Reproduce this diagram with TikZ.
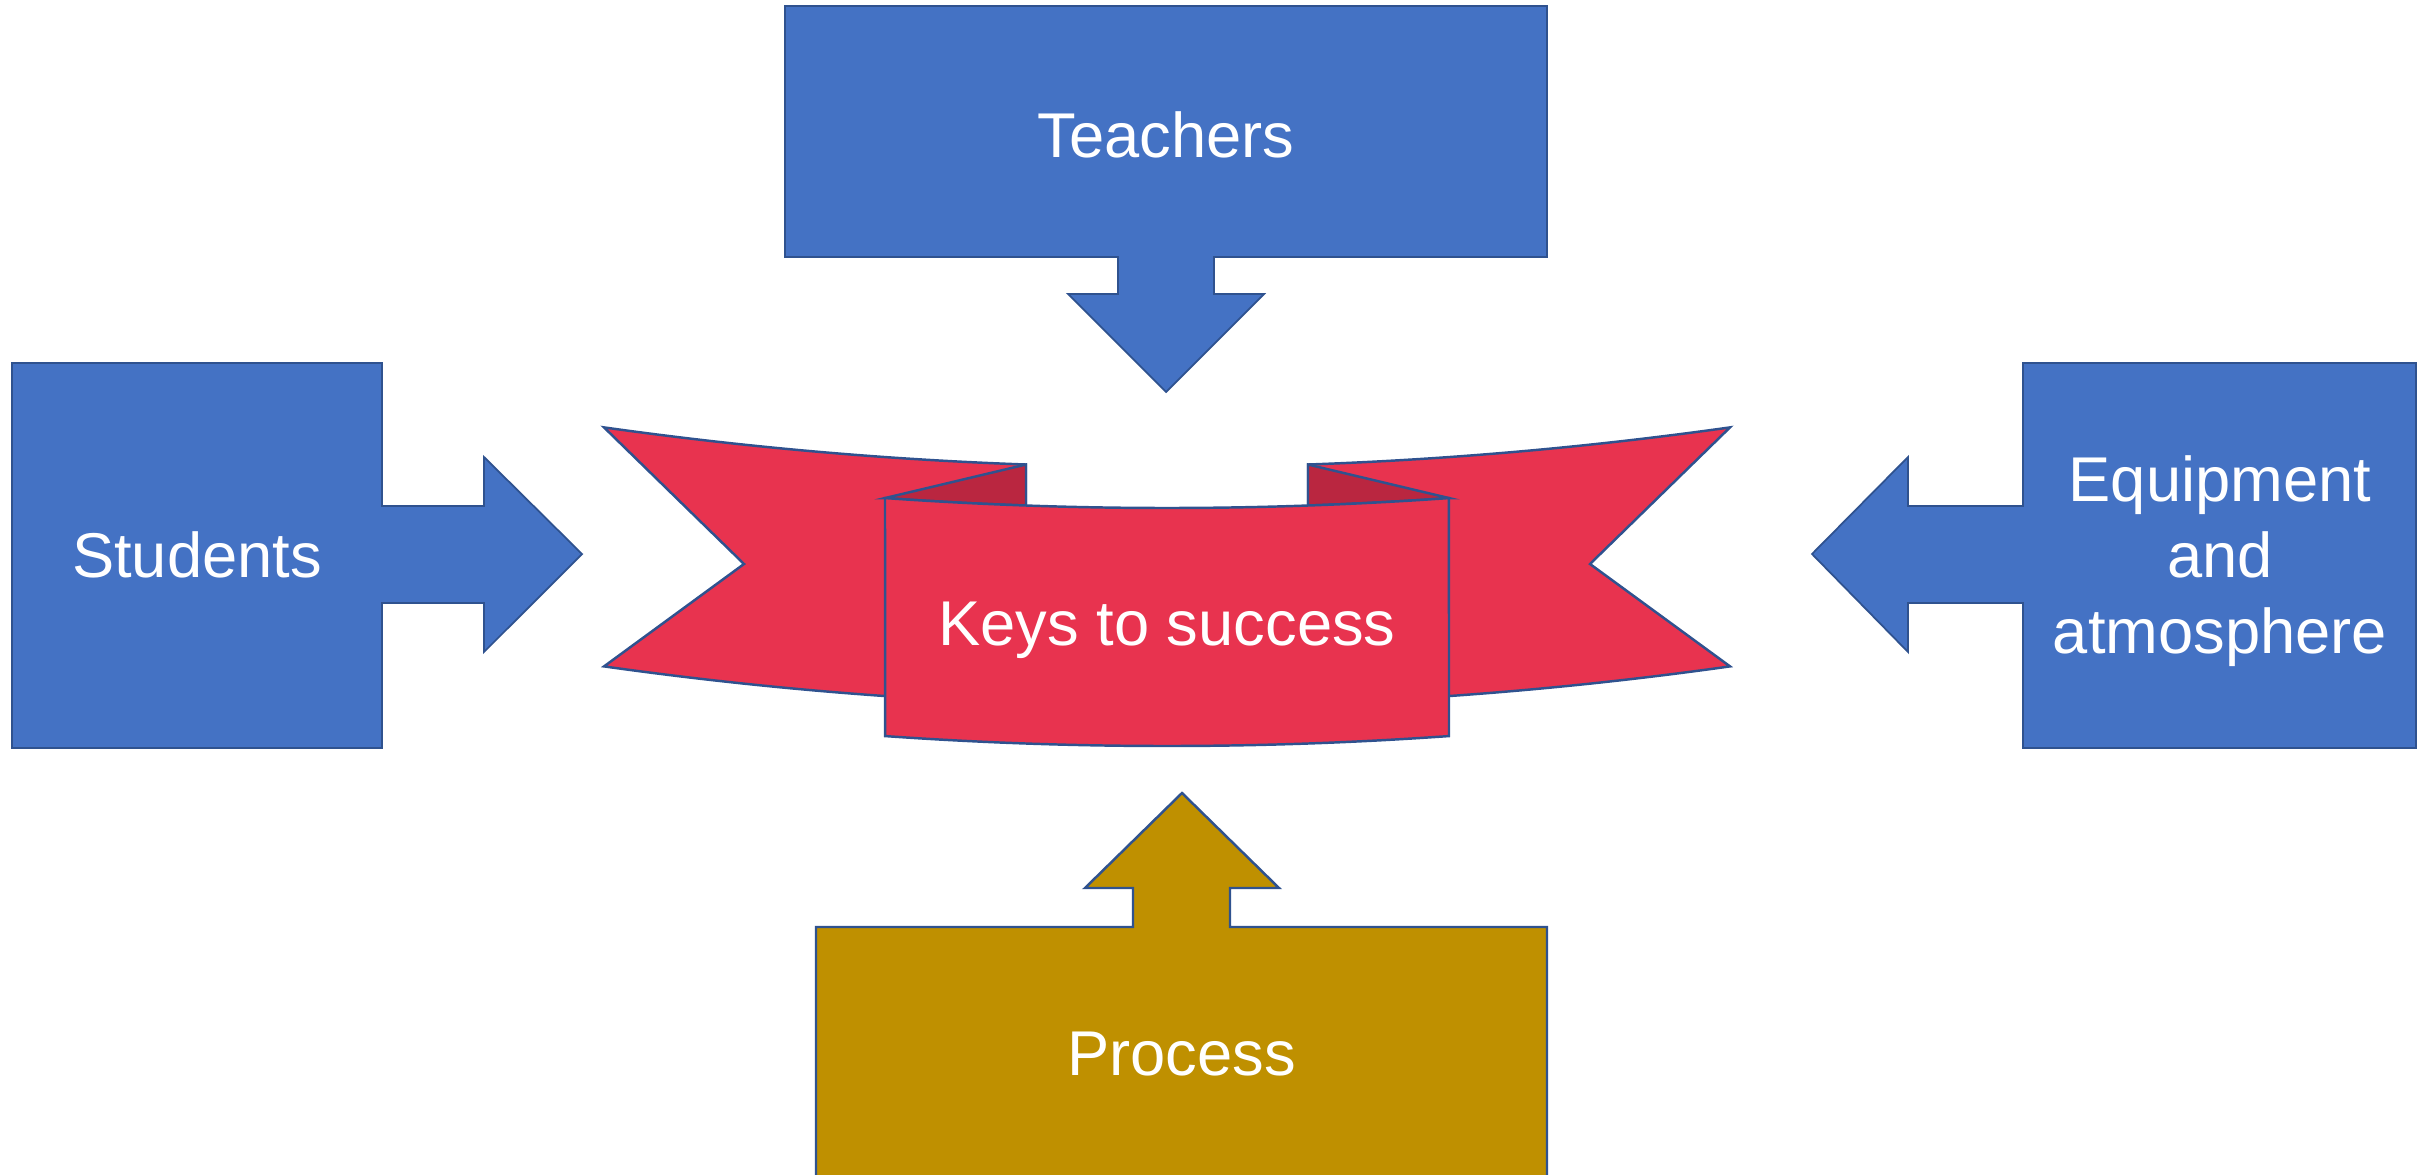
\documentclass[tikz,border=0pt]{standalone}
\usepackage{fontspec}
\setmainfont{Liberation Sans}
\usepackage{tikz}
\usepackage{xcolor}

\definecolor{boxblue}{HTML}{4472C4}
\definecolor{edgeblue}{HTML}{2F528F}
\definecolor{procgold}{HTML}{BF9000}
\definecolor{ribbonred}{HTML}{E8334F}
\definecolor{folddark}{HTML}{BA2640}

\begin{document}
\begin{tikzpicture}[
    callout/.style={fill=boxblue, draw=edgeblue, line width=0.5pt},
    ribbon/.style={fill=ribbonred, draw=edgeblue, line width=0.7pt},
    fold/.style={fill=folddark, draw=edgeblue, line width=0.7pt},
    boxtext/.style={text=white, align=center, font=\fontsize{18}{21.6}\selectfont},
    declare function={arch(\x)=0.0125*(\x-11.67)*(\x-11.67);}
]
    \clip (0,0) rectangle (24.33,11.74);

    \draw[callout] (7.85,11.68) -- (15.47,11.68) -- (15.47,9.17) -- (12.14,9.17) -- (12.14,8.80) -- (12.64,8.80) -- (11.66,7.82) -- (10.68,8.80) -- (11.18,8.80) -- (11.18,9.17) -- (7.85,9.17) -- cycle;
    \draw[callout] (0.12,8.11) -- (3.82,8.11) -- (3.82,6.68) -- (4.84,6.68) -- (4.84,7.17) -- (5.82,6.20) -- (4.84,5.22) -- (4.84,5.71) -- (3.82,5.71) -- (3.82,4.26) -- (0.12,4.26) -- cycle;
    \draw[callout] (24.16,8.11) -- (20.23,8.11) -- (20.23,6.68) -- (19.08,6.68) -- (19.08,7.17) -- (18.12,6.20) -- (19.08,5.22) -- (19.08,5.71) -- (20.23,5.71) -- (20.23,4.26) -- (24.16,4.26) -- cycle;
    \draw[callout, fill=procgold, line width=0.7pt] (8.16,-0.2) -- (8.16,2.47) -- (11.33,2.47) -- (11.33,2.86) -- (10.85,2.86) -- (11.82,3.81) -- (12.79,2.86) -- (12.30,2.86) -- (12.30,2.47) -- (15.47,2.47) -- (15.47,-0.2) -- cycle;

    % ribbon: back ends, folds, front panel
    \draw[ribbon] plot[domain=6.04:10.26, samples=40] (\x,{7.07+arch(\x)}) -- plot[domain=10.26:6.04, samples=40] (\x,{4.68+arch(\x)}) -- (7.44,6.10) -- cycle;
    \draw[ribbon] plot[domain=13.08:17.30, samples=40] (\x,{7.07+arch(\x)}) -- (15.90,6.10) -- plot[domain=17.30:13.08, samples=40] (\x,{4.68+arch(\x)}) -- cycle;
    \draw[fold] (8.85,{6.66+arch(8.85)}) -- (10.26,{7.07+arch(10.26)}) -- plot[domain=10.26:8.85, samples=20] (\x,{6.66+arch(\x)}) -- cycle;
    \draw[fold] (14.49,{6.66+arch(14.49)}) -- (13.08,{7.07+arch(13.08)}) -- plot[domain=13.08:14.49, samples=20] (\x,{6.66+arch(\x)}) -- cycle;
    \draw[ribbon] plot[domain=8.85:14.49, samples=60] (\x,{6.66+arch(\x)}) -- plot[domain=14.49:8.85, samples=60] (\x,{4.28+arch(\x)}) -- cycle;

    \node[boxtext] (teachers) at (11.66,10.39) {Teachers};
    \node[boxtext] (students) at (1.97,6.19) {Students};
    \node[boxtext] (equipment) at (22.20,6.13) {Equipment\\and\\atmosphere};
    \node[boxtext] (process) at (11.815,1.20) {Process};
    \node[boxtext] (keys) at (11.67,5.44) {Keys to success};
\end{tikzpicture}
\end{document}
